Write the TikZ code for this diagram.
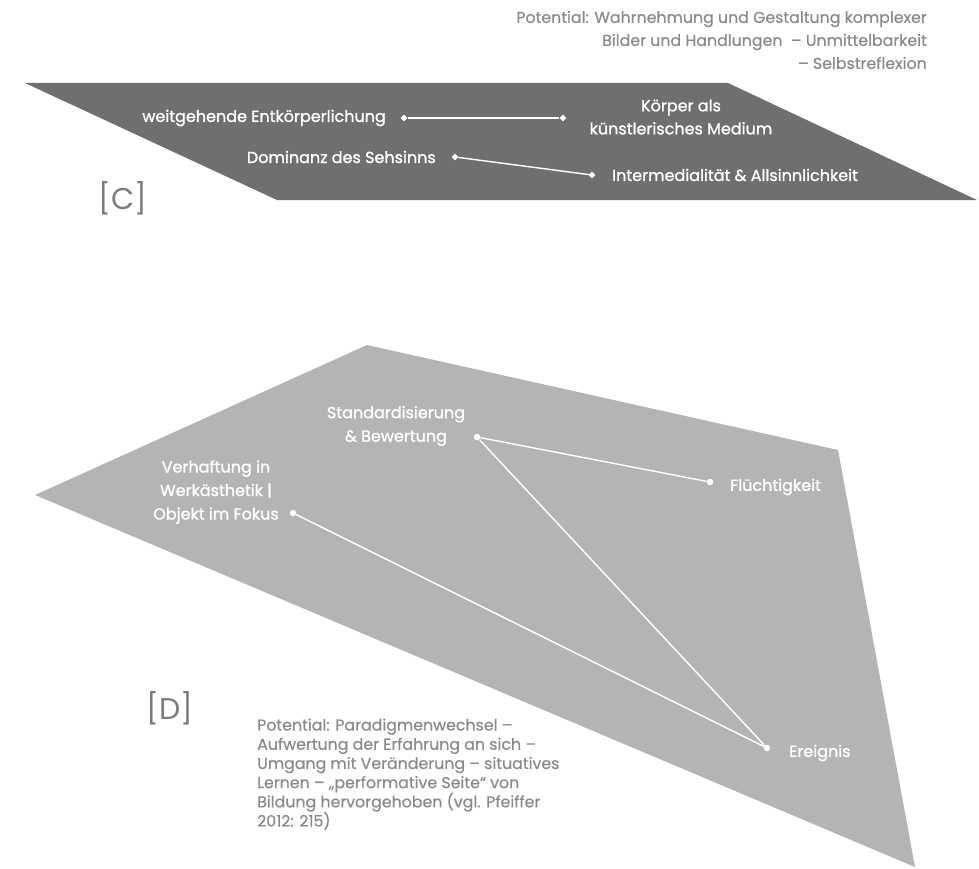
\documentclass[tikz,border=0pt]{standalone}
\usepackage{fontspec}
\setmainfont{Poppins}
\newfontfamily\medfont{Poppins}[FakeBold=1.2,Ligatures=TeX]
\newfontfamily\semifont{Poppins}[FakeBold=0.5,Ligatures=TeX]
\usetikzlibrary{shapes.geometric}
\definecolor{cdark}{HTML}{6F6F6F}
\definecolor{dlight}{HTML}{B4B4B4}
\definecolor{outtext}{HTML}{8A8A8A}
\definecolor{bracketgray}{HTML}{7C7C7C}
\tikzset{
  ctext/.style={text=white, inner sep=0pt, font=\medfont\fontsize{16}{23}\selectfont},
  dtext/.style={text=white, inner sep=0pt, font=\medfont\fontsize{16}{23.5}\selectfont},
  otext/.style={text=outtext, inner sep=0pt, font=\semifont\fontsize{15.8}{19.2}\selectfont},
  biglabel/.style={text=bracketgray, inner sep=0pt, font=\fontsize{30}{34}\selectfont},
  diam/.style={diamond, fill=white, inner sep=0pt, minimum size=7pt},
  wdot/.style={circle, fill=white, inner sep=0pt, minimum size=6.5pt},
  conn/.style={draw=white, line width=1.4pt}
}
\begin{document}
\begin{tikzpicture}[x=1pt,y=-1pt]
\useasboundingbox (0,0) rectangle (979,869);
% planes
\fill[cdark] (25,83) -- (728,83) -- (977,200) -- (277,200) -- cycle;
\fill[dlight] (367,345) -- (838,450) -- (915,867) -- (35,495) -- cycle;

% top right text
\node[otext, align=right, anchor=east, font=\semifont\fontsize{15.8}{23}\selectfont] (potc) at (927,40)
  {Potential: Wahrnehmung und Gestaltung komplexer\\Bilder und Handlungen\ \ – Unmittelbarkeit\\– Selbstreflexion};

% plane C
\node[ctext, anchor=east] (weit) at (386,118) {weitgehende Entkörperlichung};
\node[diam] (d1) at (404,118) {};
\node[diam] (d2) at (563,118) {};
\draw[conn] (d1) -- (d2);
\node[ctext, align=center] (koerper) at (681,117) {Körper als\\künstlerisches Medium};
\node[ctext, anchor=east] (dom) at (436,157) {Dominanz des Sehsinns};
\node[diam] (d3) at (455,157) {};
\node[diam] (d4) at (592,175) {};
\draw[conn] (d3) -- (d4);
\node[ctext, anchor=west] (inter) at (612,175) {Intermedialität \& Allsinnlichkeit};
\node[biglabel] (labc) at (123,198) {[C]};

% plane D
\node[dtext, align=center] (std) at (396,426) {Standardisierung\\\& Bewertung};
\node[wdot] (sdot) at (477,437) {};
\node[dtext, anchor=west] (flu) at (730,487) {Flüchtigkeit};
\node[wdot] (fdot) at (710,482) {};
\node[dtext, align=center] (ver) at (216,492) {Verhaftung in\\Werkästhetik |\\Objekt im Fokus};
\node[wdot] (vdot) at (293,513) {};
\node[dtext, anchor=west] (ere) at (789,753) {Ereignis};
\node[wdot] (edot) at (767,748) {};
\draw[conn] (sdot) -- (fdot);
\draw[conn] (sdot) -- (edot);
\draw[conn] (vdot) -- (edot);
\node[biglabel] (labd) at (170,708) {[D]};

\node[otext, align=left, anchor=west] (potd) at (257,774)
  {Potential: Paradigmenwechsel –\\Aufwertung der Erfahrung an sich –\\Umgang mit Veränderung – situatives\\Lernen – „performative Seite“ von\\Bildung hervorgehoben (vgl. Pfeiffer\\2012: 215)};
\end{tikzpicture}
\end{document}
